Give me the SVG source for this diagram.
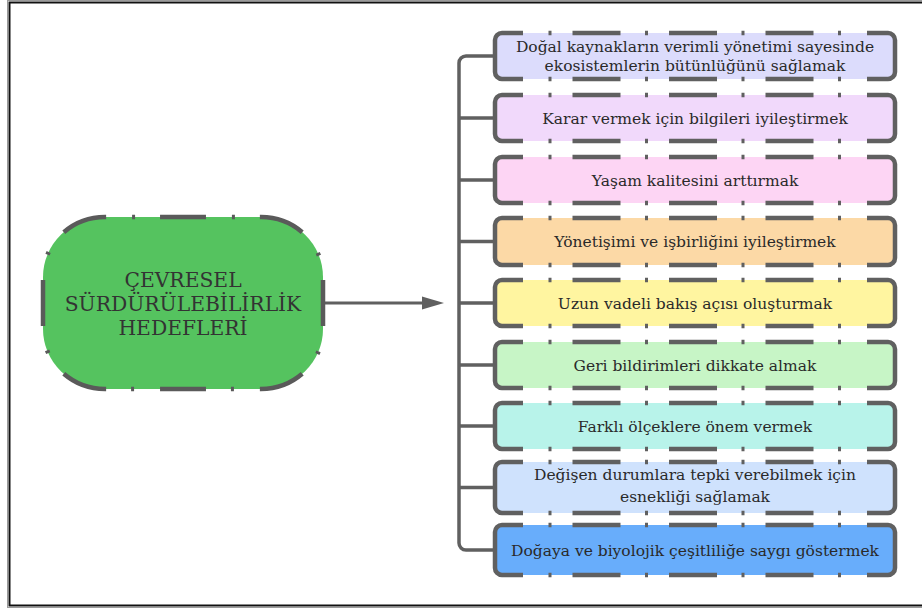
<svg xmlns="http://www.w3.org/2000/svg" width="922" height="612" viewBox="0 0 922 612">
<style>
.solid{fill:none;stroke:#606060;stroke-width:4.5;stroke-linecap:butt}
.dash{fill:none;stroke:#606060;stroke-width:4.5;stroke-dasharray:3 21 48 24.5}
.lbl{font-family:"DejaVu Serif","Liberation Serif",serif;font-size:15.5px;fill:#2a2a2a;text-anchor:middle}
.ttl{font-family:"DejaVu Serif","Liberation Serif",serif;font-size:20.3px;fill:#333;text-anchor:middle}
.conn{fill:none;stroke:#606060;stroke-width:3.5}
</style>
<rect x="0" y="0" width="922" height="612" fill="#fff"/>
<rect x="7.5" y="0.5" width="930" height="607" fill="none" stroke="#9a9a9a" stroke-width="1"/>
<rect x="9.5" y="2.5" width="930" height="603" fill="none" stroke="#111" stroke-width="2"/>

<g id="connectors">
<path class="conn" d="M495,56 H466 a7,7 0 0 0 -7,7 V543 a7,7 0 0 0 7,7 H495"/>
<path class="conn" d="M459,118 H495 M459,180 H495 M459,241.5 H495 M459,303 H495 M459,365 H495 M459,426 H495 M459,487.5 H495"/>
<line x1="324" y1="303" x2="425" y2="303" stroke="#606060" stroke-width="3"/>
<polygon points="422,296.5 444,303 422,309.5" fill="#606060"/>
</g>

<g id="center">
<path d="M183,217 H105 A62,60 0 0 0 43,277 V329 A62,60 0 0 0 105,389 H261 A62,60 0 0 0 323,329 V277 A62,60 0 0 0 261,217 Z" pathLength="800" fill="#55c35f" stroke="#5a5a5a" stroke-width="4.5" stroke-dasharray="46 25 3 26" stroke-dashoffset="23"/>
<text class="ttl" x="183" y="287">ÇEVRESEL</text>
<text class="ttl" x="183" y="311">SÜRDÜRÜLEBİLİRLİK</text>
<text class="ttl" x="183" y="335">HEDEFLERİ</text>
</g>

<g id="n1">
<rect x="495" y="33" width="400" height="46" rx="7" fill="#dcdcfc"/>
<path class="solid" d="M523,33 H502 a7,7 0 0 0 -7,7 V72 a7,7 0 0 0 7,7 H523 M867,33 H888 a7,7 0 0 1 7,7 V72 a7,7 0 0 1 -7,7 H867"/>
<path class="dash" d="M548.5,33 H841 M548.5,79 H841"/>
<text class="lbl" x="695" y="51.5" fill="#3a3a3a">Doğal kaynakların verimli yönetimi sayesinde</text>
<text class="lbl" x="695" y="70.5">ekosistemlerin bütünlüğünü sağlamak</text>
</g>

<g id="n2">
<rect x="495" y="95" width="400" height="46" rx="7" fill="#f1d9fb"/>
<path class="solid" d="M523,95 H502 a7,7 0 0 0 -7,7 V134 a7,7 0 0 0 7,7 H523 M867,95 H888 a7,7 0 0 1 7,7 V134 a7,7 0 0 1 -7,7 H867"/>
<path class="dash" d="M548.5,95 H841 M548.5,141 H841"/>
<text class="lbl" x="695" y="123.5">Karar vermek için bilgileri iyileştirmek</text>
</g>

<g id="n3">
<rect x="495" y="157" width="400" height="46" rx="7" fill="#fdd5f4"/>
<path class="solid" d="M523,157 H502 a7,7 0 0 0 -7,7 V196 a7,7 0 0 0 7,7 H523 M867,157 H888 a7,7 0 0 1 7,7 V196 a7,7 0 0 1 -7,7 H867"/>
<path class="dash" d="M548.5,157 H841 M548.5,203 H841"/>
<text class="lbl" x="695" y="185.5">Yaşam kalitesini arttırmak</text>
</g>

<g id="n4">
<rect x="495" y="218" width="400" height="47" rx="7" fill="#fcd9a6"/>
<path class="solid" d="M523,218 H502 a7,7 0 0 0 -7,7 V258 a7,7 0 0 0 7,7 H523 M867,218 H888 a7,7 0 0 1 7,7 V258 a7,7 0 0 1 -7,7 H867"/>
<path class="dash" d="M548.5,218 H841 M548.5,265 H841"/>
<text class="lbl" x="695" y="247">Yönetişimi ve işbirliğini iyileştirmek</text>
</g>

<g id="n5">
<rect x="495" y="280" width="400" height="46" rx="7" fill="#fff5a0"/>
<path class="solid" d="M523,280 H502 a7,7 0 0 0 -7,7 V319 a7,7 0 0 0 7,7 H523 M867,280 H888 a7,7 0 0 1 7,7 V319 a7,7 0 0 1 -7,7 H867"/>
<path class="dash" d="M548.5,280 H841 M548.5,326 H841"/>
<text class="lbl" x="695" y="308.5">Uzun vadeli bakış açısı oluşturmak</text>
</g>

<g id="n6">
<rect x="495" y="342" width="400" height="46" rx="7" fill="#c7f5c6"/>
<path class="solid" d="M523,342 H502 a7,7 0 0 0 -7,7 V381 a7,7 0 0 0 7,7 H523 M867,342 H888 a7,7 0 0 1 7,7 V381 a7,7 0 0 1 -7,7 H867"/>
<path class="dash" d="M548.5,342 H841 M548.5,388 H841"/>
<text class="lbl" x="695" y="370.5">Geri bildirimleri dikkate almak</text>
</g>

<g id="n7">
<rect x="495" y="403" width="400" height="46" rx="7" fill="#b8f3ea"/>
<path class="solid" d="M523,403 H502 a7,7 0 0 0 -7,7 V442 a7,7 0 0 0 7,7 H523 M867,403 H888 a7,7 0 0 1 7,7 V442 a7,7 0 0 1 -7,7 H867"/>
<path class="dash" d="M548.5,403 H841 M548.5,449 H841"/>
<text class="lbl" x="695" y="431.5">Farklı ölçeklere önem vermek</text>
</g>

<g id="n8">
<rect x="495" y="462" width="400" height="51" rx="7" fill="#cfe2fd"/>
<path class="solid" d="M523,462 H502 a7,7 0 0 0 -7,7 V506 a7,7 0 0 0 7,7 H523 M867,462 H888 a7,7 0 0 1 7,7 V506 a7,7 0 0 1 -7,7 H867"/>
<path class="dash" d="M548.5,462 H841 M548.5,513 H841"/>
<text class="lbl" x="695" y="480">Değişen durumlara tepki verebilmek için</text>
<text class="lbl" x="695" y="502">esnekliği sağlamak</text>
</g>

<g id="n9">
<rect x="495" y="525" width="400" height="50" rx="7" fill="#68adfb"/>
<path class="solid" d="M523,525 H502 a7,7 0 0 0 -7,7 V568 a7,7 0 0 0 7,7 H523 M867,525 H888 a7,7 0 0 1 7,7 V568 a7,7 0 0 1 -7,7 H867"/>
<path class="dash" d="M548.5,525 H841 M548.5,575 H841"/>
<text class="lbl" x="695" y="555.5" fill="#1a1a1a">Doğaya ve biyolojik çeşitliliğe saygı göstermek</text>
</g>
</svg>
